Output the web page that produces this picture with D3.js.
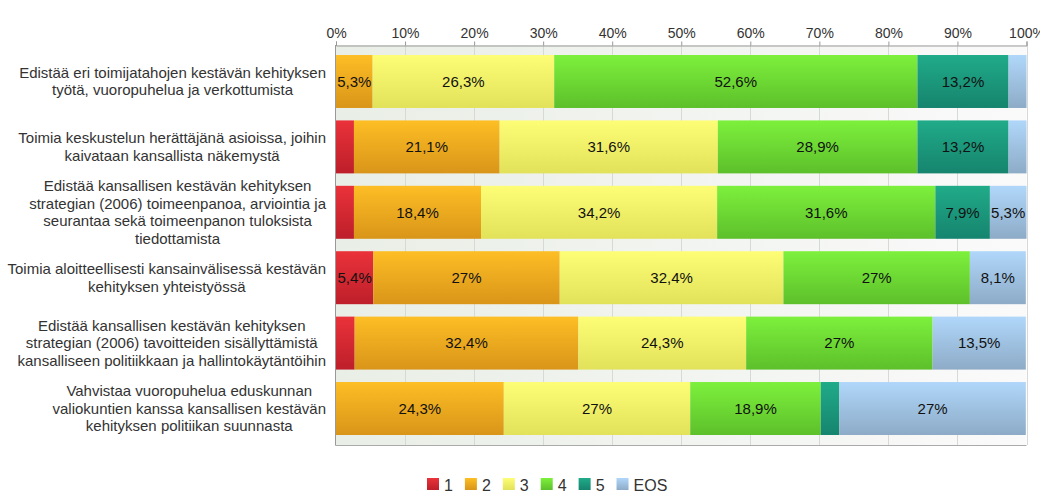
<!DOCTYPE html>
<html>
<head>
<meta charset="utf-8">
<script src="https://cdn.jsdelivr.net/npm/d3@7/dist/d3.min.js"></script>
<style>
  html, body { margin: 0; padding: 0; background: #fff; }
  svg { display: block; font-family: "Liberation Sans", Arial, sans-serif; }
</style>
</head>
<body>
<svg id="chart" width="1040" height="501"></svg>
<script>
// ---- DATA ----
const categories = [
  "Edistää eri toimijatahojen kestävän kehityksen\ntyötä, vuoropuhelua ja verkottumista",
  "Toimia keskustelun herättäjänä asioissa, joihin\nkaivataan kansallista näkemystä",
  "Edistää kansallisen kestävän kehityksen\nstrategian (2006) toimeenpanoa, arviointia ja\nseurantaa sekä toimeenpanon tuloksista\ntiedottamista",
  "Toimia aloitteellisesti kansainvälisessä kestävän\nkehityksen yhteistyössä",
  "Edistää kansallisen kestävän kehityksen\nstrategian (2006) tavoitteiden sisällyttämistä\nkansalliseen politiikkaan ja hallintokäytäntöihin",
  "Vahvistaa vuoropuhelua eduskunnan\nvaliokuntien kanssa kansallisen kestävän\nkehityksen politiikan suunnasta"
];
const seriesNames = ["1", "2", "3", "4", "5", "EOS"];
const series1   = [0,    2.6,  2.6,  5.4,  2.7,  0];
const series2   = [5.3,  21.1, 18.4, 27,   32.4, 24.3];
const series3   = [26.3, 31.6, 34.2, 32.4, 24.3, 27];
const series4   = [52.6, 28.9, 31.6, 27,   27,   18.9];
const series5   = [13.2, 13.2, 7.9,  0,    0,    2.7];
const seriesEOS = [2.6,  2.6,  5.3,  8.1,  13.5, 27];
const tickValues = [0, 10, 20, 30, 40, 50, 60, 70, 80, 90, 100];
const tickLabels = ["0%", "10%", "20%", "30%", "40%", "50%", "60%", "70%", "80%", "90%", "100%"];

const seriesValues = [series1, series2, series3, series4, series5, seriesEOS];
const rows = categories.map((c, i) => {
  const r = { category: c };
  seriesNames.forEach((s, j) => r[s] = seriesValues[j][i]);
  return r;
});

// ---- STYLE ----
const gradColors = {
  "1":   ["#ea323a", "#bd1f2a"],
  "2":   ["#fdbe25", "#d99519"],
  "3":   ["#fdfd76", "#e2e25a"],
  "4":   ["#7df03c", "#5dc02b"],
  "5":   ["#20ab89", "#16846e"],
  "EOS": ["#b0d7fa", "#8dabc7"]
};

const svg = d3.select("#chart");
const plot = { left: 336, right: 1026.5, top: 45, bottom: 445 };

const defs = svg.append("defs");
seriesNames.forEach((s, i) => {
  const g = defs.append("linearGradient").attr("id", "g" + i)
    .attr("x1", 0).attr("y1", 0).attr("x2", 0).attr("y2", 1);
  g.append("stop").attr("offset", "0%").attr("stop-color", gradColors[s][0]);
  g.append("stop").attr("offset", "100%").attr("stop-color", gradColors[s][1]);
});
const bg = defs.append("linearGradient").attr("id", "bg")
  .attr("x1", 0).attr("y1", 0).attr("x2", 1).attr("y2", 0);
bg.append("stop").attr("offset", "0%").attr("stop-color", "#e9eee6");
bg.append("stop").attr("offset", "100%").attr("stop-color", "#fafafa");

const x = d3.scaleLinear().domain([0, 100]).range([plot.left, plot.right]);
const y = d3.scaleBand().domain(categories).range([plot.top, plot.bottom])
  .paddingInner(0.19).paddingOuter(0.153);

// plot background
svg.append("rect")
  .attr("x", plot.left).attr("y", plot.top)
  .attr("width", plot.right - plot.left).attr("height", plot.bottom - plot.top)
  .attr("fill", "url(#bg)");

// gridlines
svg.append("g").selectAll("line").data(tickValues.slice(1)).join("line")
  .attr("x1", d => Math.round(x(d)) + 0.5).attr("x2", d => Math.round(x(d)) + 0.5)
  .attr("y1", plot.top).attr("y2", plot.bottom)
  .attr("stroke", "#d6d9d6").attr("stroke-width", 1);

// top axis
const axis = d3.axisTop(x).tickValues(tickValues)
  .tickFormat((d, i) => tickLabels[i]).tickSize(4).tickPadding(4);
const ax = svg.append("g").attr("transform", `translate(0,${plot.top + 0.5})`).call(axis);
ax.select(".domain").attr("stroke", "#999");
ax.selectAll(".tick line").attr("stroke", "#999");
ax.selectAll(".tick text").attr("fill", "#333").style("font-size", "14px")
  .style("font-family", "'Liberation Sans', Arial, sans-serif");

// bars
const stack = d3.stack().keys(seriesNames);
const stacked = stack(rows);
const layer = svg.append("g").selectAll("g").data(stacked).join("g")
  .attr("fill", (d, i) => `url(#g${i})`);
layer.selectAll("rect").data(d => d).join("rect")
  .attr("x", d => x(d[0]))
  .attr("y", d => y(d.data.category))
  .attr("width", d => Math.max(0, x(d[1]) - x(d[0])))
  .attr("height", y.bandwidth());

// value labels
const fmt = v => String(v).replace(".", ",") + "%";
const lbl = svg.append("g");
stacked.forEach(s => {
  s.forEach(d => {
    const v = d[1] - d[0];
    if (v < 4) return;
    lbl.append("text")
      .attr("x", (x(d[0]) + x(d[1])) / 2)
      .attr("y", y(d.data.category) + y.bandwidth() / 2)
      .attr("dy", "0.35em")
      .attr("text-anchor", "middle")
      .attr("fill", "#111")
      .style("font-size", "15px")
      .text(fmt(Math.round(v * 10) / 10));
  });
});

// left axis line & bottom line
svg.append("line").attr("x1", plot.left - 0.5).attr("x2", plot.left - 0.5)
  .attr("y1", plot.top).attr("y2", plot.bottom + 0.5).attr("stroke", "#999");
svg.append("line").attr("x1", plot.left - 0.5).attr("x2", plot.right)
  .attr("y1", plot.bottom + 0.5).attr("y2", plot.bottom + 0.5).attr("stroke", "#aaa");

// category labels (centered lines in right-aligned block)
const catG = svg.append("g");
const lineH = 17.5;
const blockRight = 326;
categories.forEach(c => {
  const lines = c.split("\n");
  const g = catG.append("g");
  const texts = lines.map((l, i) => g.append("text")
    .attr("fill", "#333").style("font-size", "15px")
    .attr("text-anchor", "middle").text(l));
  const maxW = d3.max(texts, t => t.node().getComputedTextLength());
  const cx = blockRight - maxW / 2;
  const cy = y(c) + y.bandwidth() / 2;
  const y0 = cy - (lines.length - 1) * lineH / 2;
  texts.forEach((t, i) => t.attr("x", cx).attr("y", y0 + i * lineH).attr("dy", "0.35em"));
});

// legend
const leg = svg.append("g");
let lx = 427;
seriesNames.forEach((s, i) => {
  leg.append("rect").attr("x", lx).attr("y", 478).attr("width", 12).attr("height", 12)
    .attr("fill", `url(#g${i})`);
  const t = leg.append("text").attr("x", lx + 17).attr("y", 490.5)
    .attr("fill", "#333").style("font-size", "16px").text(s);
  lx += 17 + t.node().getComputedTextLength() + 12;
});
</script>
</body>
</html>
